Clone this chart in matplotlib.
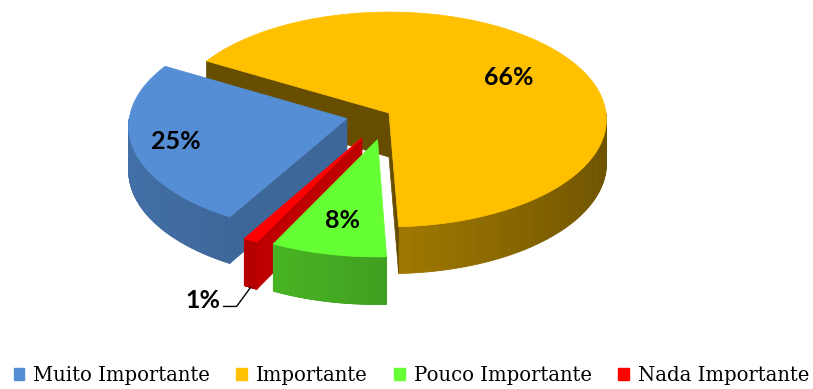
import numpy as np
import matplotlib.pyplot as plt
from matplotlib.patches import Polygon, Patch
from matplotlib.colors import to_rgb

# Donnees du graphique
labels = ['Muito Importante', 'Importante', 'Pouco Importante', 'Nada Importante']
values = [25, 66, 8, 1]
colors = ['#558ED5', '#FFC000', '#66FF33', '#FF0000']
explode = [0.2, 0.0, 0.25, 0.26]

# Style 3D (eclairage des faces coupees, position des etiquettes)
cut_shade = [0.72, 0.4, 0.7, 0.75]
label_r = [0.8, 0.66, 0.72, 1.0]

# Vue 3D en pixels
cx, cy = 389, 113
rx, ry = 217, 107
persp = 0.06
depth = 44
start = 240.0   # angle de depart, sens horaire


def proj(x, y, z):
    s = 1.0 / (1.0 + persp * y)
    return cx + rx * x * s, cy - ry * y * s + depth * z * s


def shade(c, f):
    r, g, b = to_rgb(c)
    return (min(r * f, 1), min(g * f, 1), min(b * f, 1))


def area(pts):
    p = np.array(pts)
    return 0.5 * np.sum(p[:, 0] * np.roll(p[:, 1], -1) - np.roll(p[:, 0], -1) * p[:, 1])


# angles des parts
angles = []
a0 = start
for v in values:
    a1 = a0 - 360.0 * v / sum(values)
    angles.append((a0, a1))
    a0 = a1

fig = plt.figure(figsize=(8.13, 3.89), dpi=100)
ax = fig.add_axes([0, 0, 1, 1])
ax.set_xlim(0, 813)
ax.set_ylim(389, 0)
ax.axis('off')

order = [1, 0, 3, 2]  # du fond vers l'avant
for i in order:
    a0, a1 = angles[i]
    m = np.radians((a0 + a1) / 2)
    ox, oy = explode[i] * np.cos(m), explode[i] * np.sin(m)
    th = np.radians(np.linspace(a0, a1, 200))

    # paroi exterieure
    for k in range(len(th) - 1):
        tm = (th[k] + th[k + 1]) / 2
        if np.sin(tm) >= 0:
            continue
        f = 0.6 + 0.18 * np.cos(tm - np.radians(190))
        q = [proj(ox + np.cos(th[k]), oy + np.sin(th[k]), 0),
             proj(ox + np.cos(th[k + 1]), oy + np.sin(th[k + 1]), 0),
             proj(ox + np.cos(th[k + 1]), oy + np.sin(th[k + 1]), 1),
             proj(ox + np.cos(th[k]), oy + np.sin(th[k]), 1)]
        c = shade(colors[i], f)
        ax.add_patch(Polygon(q, closed=True, fc=c, ec=c, lw=0.6))

    # faces coupees
    for a, rev in ((a0, False), (a1, True)):
        t = np.radians(a)
        q = [proj(ox, oy, 0), proj(ox + np.cos(t), oy + np.sin(t), 0),
             proj(ox + np.cos(t), oy + np.sin(t), 1), proj(ox, oy, 1)]
        if rev:
            q = [q[0], q[3], q[2], q[1]]
        if area(q) < 0:
            c = shade(colors[i], cut_shade[i])
            ax.add_patch(Polygon(q, closed=True, fc=c, ec=c, lw=0.5))

    # dessus
    top = [proj(ox, oy, 0)] + [proj(ox + np.cos(t), oy + np.sin(t), 0) for t in th]
    ax.add_patch(Polygon(top, closed=True, fc=colors[i], ec=colors[i], lw=0.5))

# etiquettes
for i, v in enumerate(values):
    a0, a1 = angles[i]
    m = np.radians((a0 + a1) / 2)
    e = explode[i]
    txt = '{}%'.format(v)
    if v >= 5:
        r = label_r[i]
        x, y = proj(e * np.cos(m) + r * np.cos(m), e * np.sin(m) + r * np.sin(m), 0)
        ax.text(x, y, txt, ha='center', va='center', fontsize=18,
                fontweight='bold', family='Lato')
    else:
        x, y = proj((e + label_r[i]) * np.cos(m), (e + label_r[i]) * np.sin(m), 1)
        ax.plot([x, x - 14, x - 27], [y, y + 19, y + 19], color='black', lw=1)
        ax.text(x - 30, y + 13, txt, ha='right', va='center', fontsize=18,
                fontweight='bold', family='Lato')

handles = [Patch(color=c) for c in colors]
fig.legend(handles, labels, loc='center', bbox_to_anchor=(0.506, 0.035), ncol=4,
           frameon=False, handlelength=0.55, handleheight=0.55, handletextpad=0.45,
           columnspacing=1.35, borderaxespad=0, borderpad=0,
           prop={'family': 'DejaVu Serif', 'size': 14.1})

plt.savefig('out.png', dpi=100)
